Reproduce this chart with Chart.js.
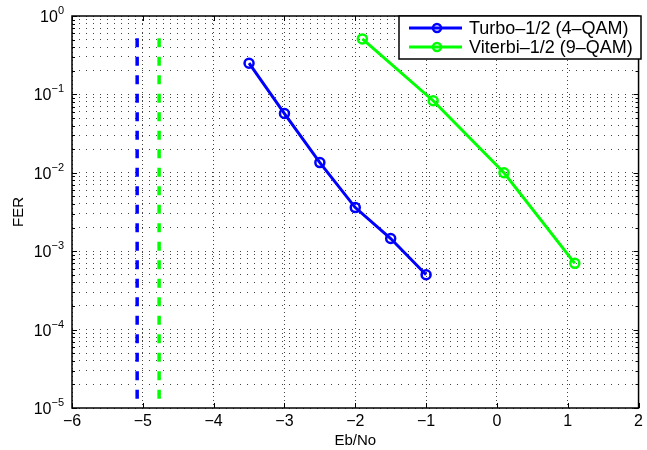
<!DOCTYPE html>
<html>
<head>
<meta charset="utf-8">
<script src="https://cdn.jsdelivr.net/npm/chart.js@4.4.1/dist/chart.umd.min.js"></script>
<style>
    html, body { margin: 0; padding: 0; background: #fff; }
    #wrap { width: 647px; height: 450px; }
</style>
</head>
<body>
<div id="wrap"><canvas id="ferChart"></canvas></div>
<script>
// Data
const turboEbNo = [-3.5, -3, -2.5, -2, -1.5, -1];
const turboFer = [0.25, 0.057, 0.0135, 0.0036, 0.00145, 0.0005];
const viterbiEbNo = [-1.9, -0.9, 0.1, 1.1];
const viterbiFer = [0.51, 0.083, 0.01, 0.0007];
// vertical dashed limits (x position, top value)
const limitX = [-5.08, -4.77];
const limitTop = [0.52, 0.52];
const limitBottom = 1e-5;

const seriesNames = ['Turbo\u20131/2 (4\u2013QAM)', 'Viterbi\u20131/2 (9\u2013QAM)'];
const seriesColors = ['#0000ff', '#00ff00'];

const xTicks = [-6, -5, -4, -3, -2, -1, 0, 1, 2];
const yDecades = [-5, -4, -3, -2, -1, 0];

const FONT = "'Liberation Sans', Arial, Helvetica, sans-serif";

// every 1..9 x 10^n position for the log grid
const yGridValues = [];
yDecades.forEach(n => {
    if (n === 0) { yGridValues.push(1); return; }
    for (let k = 1; k <= 9; k++) yGridValues.push(k * Math.pow(10, n));
});

const toPoints = (xs, ys) => xs.map((x, i) => ({ x: x, y: ys[i] }));
const minus = v => (v < 0 ? '\u2212' + Math.abs(v) : String(v));

// axes box, inward ticks, superscript y labels, boxed legend
const matlabAxes = {
    id: 'matlabAxes',
    afterDraw(chart) {
        const { ctx, chartArea: a, scales: { x, y } } = chart;
        ctx.save();
        ctx.strokeStyle = '#000';
        ctx.lineWidth = 1;
        ctx.setLineDash([]);

        ctx.beginPath();
        xTicks.forEach(v => {
            const px = Math.round(x.getPixelForValue(v)) + 0.5;
            ctx.moveTo(px, a.bottom); ctx.lineTo(px, a.bottom - 5);
            ctx.moveTo(px, a.top); ctx.lineTo(px, a.top + 5);
        });
        yGridValues.forEach(v => {
            const py = Math.round(y.getPixelForValue(v)) + 0.5;
            const major = Math.abs(Math.log10(v) - Math.round(Math.log10(v))) < 1e-9;
            const len = major ? 5 : 3;
            ctx.moveTo(a.left, py); ctx.lineTo(a.left + len, py);
            ctx.moveTo(a.right, py); ctx.lineTo(a.right - len, py);
        });
        ctx.stroke();

        ctx.lineWidth = 1.5;
        ctx.strokeRect(a.left, a.top, a.right - a.left, a.bottom - a.top);

        // y labels 10^n
        ctx.fillStyle = '#000';
        ctx.textBaseline = 'alphabetic';
        yDecades.forEach(n => {
            const py = y.getPixelForValue(Math.pow(10, n));
            ctx.font = '11px ' + FONT;
            const sup = minus(n);
            const supW = ctx.measureText(sup).width;
            ctx.font = '16px ' + FONT;
            const baseW = ctx.measureText('10').width;
            const xEnd = a.left - 8;
            ctx.fillText('10', xEnd - supW - baseW, py + 6);
            ctx.font = '11px ' + FONT;
            ctx.fillText(sup, xEnd - supW, py - 2);
        });

        // legend
        const lx = 399, ly = 16, lw = 242, lh = 43;
        ctx.fillStyle = '#fff';
        ctx.fillRect(lx, ly, lw, lh);
        ctx.lineWidth = 1.5;
        ctx.strokeStyle = '#000';
        ctx.strokeRect(lx, ly, lw, lh);
        const rows = [ly + 12, ly + 31];
        seriesNames.forEach((name, i) => {
            const ry = rows[i];
            ctx.strokeStyle = seriesColors[i];
            ctx.lineWidth = 3;
            ctx.beginPath();
            ctx.moveTo(lx + 10, ry); ctx.lineTo(lx + 63, ry);
            ctx.stroke();
            ctx.lineWidth = 2.5;
            ctx.beginPath();
            ctx.arc(lx + 38, ry, 4, 0, Math.PI * 2);
            ctx.stroke();
            ctx.fillStyle = '#000';
            ctx.font = '18px ' + FONT;
            ctx.textBaseline = 'middle';
            ctx.fillText(name, lx + 70, ry + 1);
        });
        ctx.restore();
    }
};

const lineSeries = (i, xs, ys) => ({
    label: seriesNames[i],
    data: toPoints(xs, ys),
    showLine: true,
    borderColor: seriesColors[i],
    backgroundColor: seriesColors[i],
    borderWidth: 3,
    pointRadius: 4.5,
    pointBorderWidth: 2.5,
    pointBackgroundColor: 'rgba(255,255,255,0)',
    pointBorderColor: seriesColors[i],
    pointHoverRadius: 4.5
});

const limitSeries = i => ({
    label: 'limit' + i,
    data: [{ x: limitX[i], y: limitTop[i] }, { x: limitX[i], y: limitBottom }],
    showLine: true,
    borderColor: seriesColors[i],
    borderWidth: 3.5,
    borderDash: [9, 9.5],
    pointRadius: 0
});

new Chart(document.getElementById('ferChart'), {
    type: 'scatter',
    data: {
        datasets: [
            lineSeries(0, turboEbNo, turboFer),
            lineSeries(1, viterbiEbNo, viterbiFer),
            limitSeries(0),
            limitSeries(1)
        ]
    },
    options: {
        responsive: true,
        maintainAspectRatio: false,
        animation: false,
        devicePixelRatio: 1,
        layout: { padding: { left: 0, top: 16, right: 4, bottom: 0 } },
        plugins: {
            legend: { display: false },
            tooltip: { enabled: false }
        },
        scales: {
            x: {
                type: 'linear',
                min: -6,
                max: 2,
                afterBuildTicks: s => { s.ticks = xTicks.map(v => ({ value: v })); },
                afterFit: s => { s.height = 42; },
                ticks: {
                    color: '#000',
                    font: { family: FONT, size: 16 },
                    padding: 4,
                    maxRotation: 0,
                    callback: v => minus(v)
                },
                grid: { color: '#444', lineWidth: 1, drawTicks: false },
                border: { display: false, dash: [1, 3] },
                title: {
                    display: true,
                    text: 'Eb/No',
                    color: '#000',
                    font: { family: FONT, size: 15 },
                    padding: { top: 3, bottom: 0 }
                }
            },
            y: {
                type: 'logarithmic',
                min: 1e-5,
                max: 1,
                afterBuildTicks: s => { s.ticks = yGridValues.map(v => ({ value: v })); },
                afterFit: s => { s.width = 72; },
                ticks: { display: false },
                grid: { color: '#444', lineWidth: 1, drawTicks: false },
                border: { display: false, dash: [1, 6] },
                title: {
                    display: true,
                    text: 'FER',
                    color: '#000',
                    font: { family: FONT, size: 15 },
                    padding: { top: 10, bottom: 0 }
                }
            }
        }
    },
    plugins: [matlabAxes]
});
</script>
</body>
</html>
